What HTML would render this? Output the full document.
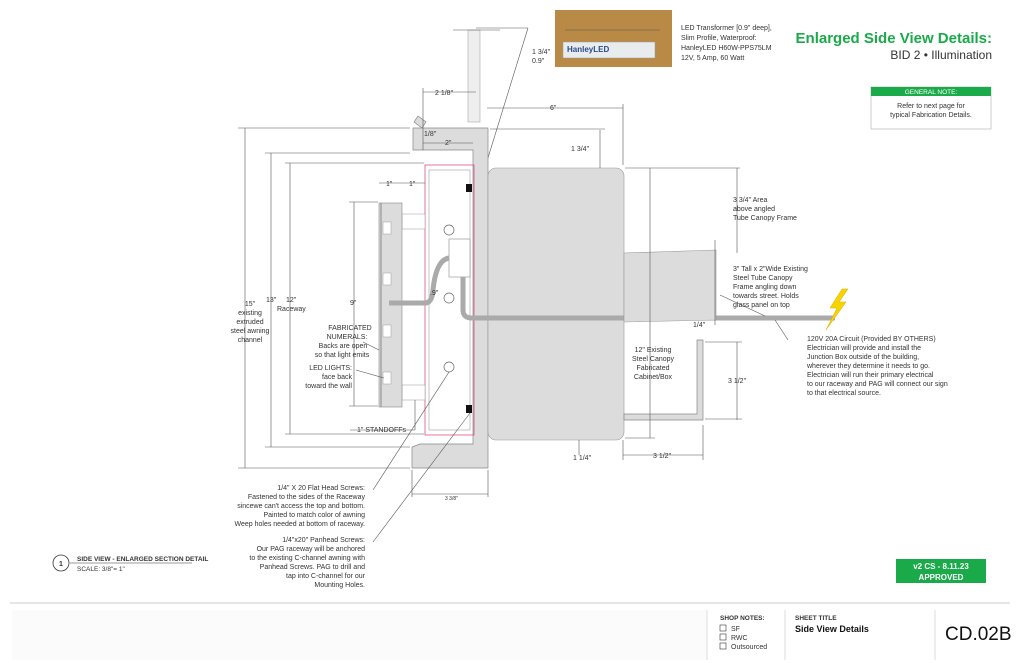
<!DOCTYPE html>
<html><head><meta charset="utf-8"><style>
html,body{margin:0;padding:0;background:#fff;}
svg{display:block;font-family:"Liberation Sans",sans-serif;}
text{fill:#333;}
.s{font-size:7px;}
.d{stroke:#555;stroke-width:0.6;fill:none;}
.g{fill:#dcdcdc;stroke:#888;stroke-width:0.7;}
</style></head><body>
<svg width="1024" height="663" viewBox="0 0 1024 663" xmlns="http://www.w3.org/2000/svg">
<rect width="1024" height="663" fill="#fff"/>
<!-- photo -->
<rect x="555" y="10" width="117" height="57" fill="#b98a45"/>
<rect x="563" y="42" width="92" height="16" fill="#e8ecef" stroke="#999" stroke-width="0.5"/>
<text x="567" y="52" style="font-size:8px;fill:#2a4a8a;font-weight:bold">HanleyLED</text>
<line x1="565" y1="30" x2="660" y2="30" class="d"/>
<text x="532" y="54" class="s">1 3/4"</text><text x="532" y="63" class="s">0.9"</text>
<text x="681" y="30" class="s">LED Transformer [0.9" deep],</text>
<text x="681" y="40" class="s">Slim Profile, Waterproof:</text>
<text x="681" y="50" class="s">HanleyLED H60W-PPS75LM</text>
<text x="681" y="60" class="s">12V, 5 Amp, 60 Watt</text>
<line x1="528" y1="28" x2="476" y2="28" class="d"/>
<line x1="528" y1="28" x2="475" y2="200" class="d"/>
<!-- title -->
<text x="992" y="43" text-anchor="end" style="font-size:15px;font-weight:bold;fill:#1aaa4a">Enlarged Side View Details:</text>
<text x="992" y="59" text-anchor="end" style="font-size:12px;fill:#333">BID 2 • Illumination</text>
<rect x="871" y="87" width="120" height="42" fill="#fff" stroke="#aaa" stroke-width="0.6"/>
<rect x="871" y="87" width="120" height="9" fill="#1aaa4a"/>
<text x="931" y="94" text-anchor="middle" style="font-size:6.5px;fill:#fff">GENERAL NOTE:</text>
<text x="931" y="108" text-anchor="middle" class="s">Refer to next page for</text>
<text x="931" y="117" text-anchor="middle" class="s">typical Fabrication Details.</text>
<!-- top post -->
<rect x="468" y="30" width="12" height="92" fill="#eee" stroke="#999" stroke-width="0.5"/>
<line x1="453" y1="30" x2="500" y2="30" class="d"/>
<!-- awning channel -->
<path d="M413 128 H488 V468 H412 V447 L420 444 H473 V150 H413 Z" class="g"/>
<path d="M418 116 L426 122 L422 128 L414 122 Z" class="g"/>
<!-- cabinet -->
<rect x="488" y="168" width="136" height="272" rx="8" fill="#dcdcdc" stroke="#999" stroke-width="0.6"/>
<!-- raceway -->
<rect x="425" y="165" width="49" height="270" fill="none" stroke="#e0508a" stroke-width="0.8"/>
<rect x="429" y="170" width="41" height="260" fill="none" stroke="#888" stroke-width="0.5"/>
<rect x="466" y="184" width="6" height="8" fill="#111"/><rect x="466" y="405" width="6" height="8" fill="#111"/>
<rect x="449" y="239" width="21" height="38" fill="#fff" stroke="#888" stroke-width="0.6"/>
<g fill="#fff" stroke="#666" stroke-width="0.7"><circle cx="449" cy="230" r="5"/><circle cx="449" cy="298" r="5"/><circle cx="449" cy="367" r="5"/></g>
<!-- standoffs -->
<rect x="402" y="214" width="23" height="15" fill="#fff" stroke="#999" stroke-width="0.5"/>
<rect x="402" y="385" width="23" height="15" fill="#fff" stroke="#999" stroke-width="0.5"/>
<!-- numerals -->
<rect x="379" y="203" width="23" height="204" fill="#dcdcdc" stroke="#888" stroke-width="0.6"/>
<line x1="381" y1="203" x2="381" y2="407" stroke="#888"/>
<g fill="#fff" stroke="#999" stroke-width="0.5"><rect x="383" y="222" width="8" height="12"/><rect x="383" y="273" width="8" height="12"/><rect x="383" y="325" width="8" height="12"/><rect x="383" y="372" width="8" height="12"/></g>
<!-- wire -->
<path d="M389 303 H425 Q432 303 433 290 Q436 260 449 258" fill="none" stroke="#aaa" stroke-width="5"/>
<path d="M463 277 V310 Q463 318 472 318 H835" fill="none" stroke="#aaa" stroke-width="5"/>
<polygon points="842,289 830,308 837,308 826,330 846,302 839,302 848,289" fill="#f5d400" stroke="#e0a800" stroke-width="0.5"/>
<!-- canopy frame -->
<polygon points="624,253 716,250 716,320 624,322" fill="#dcdcdc" stroke="#999" stroke-width="0.6"/>
<line x1="715" y1="240" x2="715" y2="325" class="d"/>
<path d="M624 414 H697 V340 H703 V420 H624 Z" class="g"/>
<!-- dims -->
<g class="d">
<line x1="245" y1="128" x2="245" y2="468"/><line x1="238" y1="128" x2="410" y2="128"/><line x1="238" y1="468" x2="410" y2="468"/>
<line x1="271" y1="153" x2="271" y2="447"/><line x1="265" y1="153" x2="410" y2="153"/><line x1="265" y1="447" x2="410" y2="447"/>
<line x1="290" y1="163" x2="290" y2="434"/><line x1="285" y1="163" x2="424" y2="163"/><line x1="285" y1="434" x2="424" y2="434"/>
<line x1="354" y1="202" x2="354" y2="406"/><line x1="349" y1="202" x2="378" y2="202"/><line x1="349" y1="406" x2="378" y2="406"/>
<line x1="379" y1="183" x2="425" y2="183"/>
<line x1="423" y1="92" x2="476" y2="92"/><line x1="423" y1="88" x2="423" y2="150"/>
<line x1="423" y1="143" x2="473" y2="143"/>
<line x1="487" y1="108" x2="623" y2="108"/><line x1="623" y1="104" x2="623" y2="165"/>
<line x1="600" y1="130" x2="600" y2="168"/><line x1="490" y1="129" x2="605" y2="129"/>
<line x1="650" y1="168" x2="650" y2="438"/><line x1="625" y1="168" x2="740" y2="168"/><line x1="625" y1="438" x2="655" y2="438"/>
<line x1="737" y1="168" x2="737" y2="253"/>
<line x1="737" y1="342" x2="737" y2="420"/><line x1="705" y1="342" x2="742" y2="342"/><line x1="705" y1="419" x2="742" y2="419"/>
<line x1="623" y1="455" x2="703" y2="455"/><line x1="623" y1="440" x2="623" y2="460"/><line x1="703" y1="425" x2="703" y2="460"/>
<line x1="579" y1="440" x2="579" y2="455"/><line x1="412" y1="470" x2="412" y2="497"/><line x1="488" y1="470" x2="488" y2="497"/><line x1="412" y1="494" x2="488" y2="494"/>
<line x1="350" y1="430" x2="415" y2="430"/><line x1="415" y1="430" x2="415" y2="400"/>
<line x1="373" y1="490" x2="449" y2="372"/><line x1="373" y1="542" x2="470" y2="413"/>
<line x1="363" y1="342" x2="379" y2="350"/><line x1="356" y1="370" x2="384" y2="378"/>
<line x1="720" y1="295" x2="765" y2="316"/>
<line x1="788" y1="340" x2="775" y2="320"/>
</g>
<g class="s">
<text x="435" y="95">2 1/8"</text><text x="424" y="136">1/8"</text><text x="445" y="145">2"</text>
<text x="550" y="110">6"</text><text x="571" y="151">1 3/4"</text>
<text x="386" y="186">1"</text><text x="409" y="186">1"</text>
<text x="250" y="306" text-anchor="middle">15"</text><text x="250" y="315" text-anchor="middle">existing</text><text x="250" y="324" text-anchor="middle">extruded</text><text x="250" y="333" text-anchor="middle">steel awning</text><text x="250" y="342" text-anchor="middle">channel</text>
<text x="266" y="302">13"</text><text x="286" y="302">12"</text><text x="277" y="311">Raceway</text>
<text x="350" y="305">9"</text><text x="430" y="295">.9"</text>
<text x="350" y="330" text-anchor="middle">FABRICATED</text><text x="347" y="339" text-anchor="middle">NUMERALS:</text><text x="343" y="348" text-anchor="middle">Backs are open</text><text x="342" y="357" text-anchor="middle">so that light emits</text>
<text x="352" y="370" text-anchor="end">LED LIGHTS:</text><text x="352" y="379" text-anchor="end">face back</text><text x="352" y="388" text-anchor="end">toward the wall</text>
<text x="357" y="432">1" STANDOFFs</text>
<text x="573" y="460">1 1/4"</text><text x="653" y="458">3 1/2"</text><text x="445" y="500" style="font-size:5px">3 3/8"</text>
<text x="653" y="352" text-anchor="middle">12" Existing</text><text x="653" y="361" text-anchor="middle">Steel Canopy</text><text x="653" y="370" text-anchor="middle">Fabricated</text><text x="653" y="379" text-anchor="middle">Cabinet/Box</text>
<text x="693" y="327">1/4"</text><text x="728" y="383">3 1/2"</text>
<text x="733" y="202">3 3/4" Area</text><text x="733" y="211">above angled</text><text x="733" y="220">Tube Canopy Frame</text>
<text x="733" y="271">3" Tall x 2"Wide Existing</text><text x="733" y="280">Steel Tube Canopy</text><text x="733" y="289">Frame angling down</text><text x="733" y="298">towards street. Holds</text><text x="733" y="307">glass panel on top</text>
<text x="807" y="341">120V 20A Circuit (Provided BY OTHERS)</text><text x="807" y="350">Electrician will provide and install the</text><text x="807" y="359">Junction Box outside of the building,</text><text x="807" y="368">wherever they determine it needs to go.</text><text x="807" y="377">Electrician will run their primary electrical</text><text x="807" y="386">to our raceway and PAG will connect our sign</text><text x="807" y="395">to that electrical source.</text>
<g text-anchor="end">
<text x="365" y="490">1/4" X 20 Flat Head Screws:</text><text x="365" y="499">Fastened to the sides of the Raceway</text><text x="365" y="508">sincewe can't access the top and bottom.</text><text x="365" y="517">Painted to match color of awning</text><text x="365" y="526">Weep holes needed at bottom of raceway.</text>
<text x="365" y="542">1/4"x20" Panhead Screws:</text><text x="365" y="551">Our PAG raceway will be anchored</text><text x="365" y="560">to the existing C-channel awning with</text><text x="365" y="569">Panhead Screws. PAG to drill and</text><text x="365" y="578">tap into C-channel for our</text><text x="365" y="587">Mounting Holes.</text>
</g>
</g>
<!-- view label -->
<circle cx="61" cy="563" r="8" fill="#fff" stroke="#333" stroke-width="0.8"/>
<text x="61" y="566" text-anchor="middle" style="font-size:7px;font-weight:bold">1</text>
<text x="77" y="561" style="font-size:6.5px;font-weight:bold">SIDE VIEW  - ENLARGED SECTION DETAIL</text>
<line x1="70" y1="563" x2="192" y2="563" stroke="#333" stroke-width="0.6"/>
<text x="77" y="571" style="font-size:6.5px">SCALE: 3/8"= 1"</text>
<!-- approved -->
<rect x="896" y="559" width="90" height="24" fill="#1aaa4a"/>
<text x="941" y="569" text-anchor="middle" style="font-size:8px;font-weight:bold;fill:#fff">v2 CS - 8.11.23</text>
<text x="941" y="580" text-anchor="middle" style="font-size:8px;font-weight:bold;fill:#fff">APPROVED</text>
<!-- footer -->
<line x1="10" y1="603" x2="1010" y2="603" stroke="#ccc" stroke-width="1"/>
<rect x="12" y="610" width="695" height="50" fill="#fbfbfb"/>
<line x1="707" y1="610" x2="707" y2="660" stroke="#ddd"/><line x1="785" y1="610" x2="785" y2="660" stroke="#ddd"/><line x1="935" y1="610" x2="935" y2="660" stroke="#ddd"/>
<text x="720" y="620" style="font-size:6.5px;font-weight:bold">SHOP NOTES:</text>
<g fill="#fff" stroke="#333" stroke-width="0.6"><rect x="720" y="625" width="6" height="6"/><rect x="720" y="634" width="6" height="6"/><rect x="720" y="643" width="6" height="6"/></g>
<g style="font-size:7px"><text x="731" y="631">SF</text><text x="731" y="640">RWC</text><text x="731" y="649">Outsourced</text></g>
<text x="795" y="620" style="font-size:6.5px;font-weight:bold">SHEET TITLE</text>
<text x="795" y="632" style="font-size:9px;font-weight:bold;fill:#111">Side View Details</text>
<text x="945" y="640" style="font-size:19px;fill:#111">CD.02B</text>
</svg>
</body></html>
